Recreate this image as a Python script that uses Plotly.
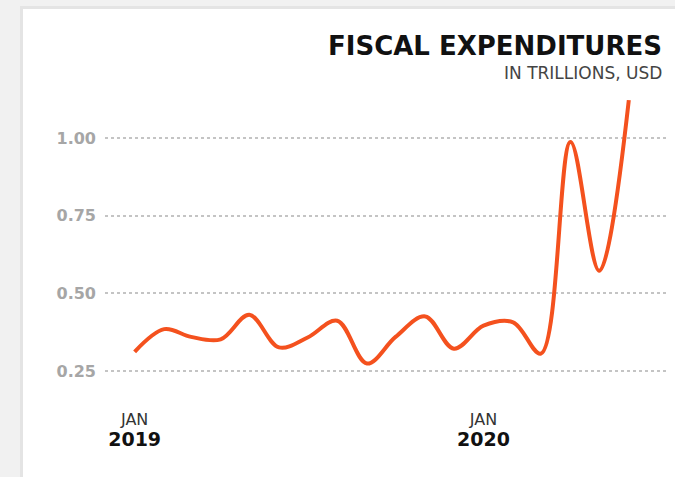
import plotly.graph_objects as go

# Monthly federal outlays, trillions of USD
months = [
    "2019-01-01", "2019-02-01", "2019-03-01", "2019-04-01", "2019-05-01", "2019-06-01",
    "2019-07-01", "2019-08-01", "2019-09-01", "2019-10-01", "2019-11-01", "2019-12-01",
    "2020-01-01", "2020-02-01", "2020-03-01", "2020-04-01", "2020-05-01", "2020-06-01",
]
outlays = [
    0.312, 0.385, 0.360, 0.352, 0.431, 0.326,
    0.358, 0.412, 0.274, 0.360, 0.426, 0.322,
    0.396, 0.407, 0.306, 0.988, 0.573, 1.123,
]

tick_dates = ["2019-01-01", "2020-01-01"]
tick_months = ["JAN", "JAN"]
tick_years = ["2019", "2020"]
y_ticks = [0.25, 0.50, 0.75, 1.00]

title_text = "FISCAL EXPENDITURES"
subtitle_text = "IN TRILLIONS, USD"

FONT = "DejaVu Sans, sans-serif"

W, H = 675, 477
ML, MR, MT, MB = 105, 7, 95, 87
PW, PH = W - ML - MR, H - MT - MB


def px_x(px):
    return (px - ML) / PW


def px_y(py):
    return (H - MB - py) / PH


fig = go.Figure()
fig.add_trace(go.Scatter(
    x=months, y=outlays,
    mode="lines",
    line=dict(color="#f4511e", width=4, shape="spline", smoothing=1.0),
    hoverinfo="x+y",
))

ticktext = [
    f"<span style='font-size:16px;color:#333'>{m}</span><br>"
    f"<span style='font-size:19px;color:#111'><b>{y}</b></span>"
    for m, y in zip(tick_months, tick_years)
]

fig.update_layout(
    width=W, height=H,
    margin=dict(l=ML, r=MR, t=MT, b=MB),
    paper_bgcolor="#f1f1f1",
    plot_bgcolor="rgba(0,0,0,0)",
    showlegend=False,
    font=dict(family=FONT),
    xaxis=dict(
        type="date",
        range=["2018-12-01", "2020-07-12"],
        tickvals=tick_dates,
        ticktext=ticktext,
        showgrid=False, zeroline=False, showline=False,
        ticks="", ticklabelstandoff=18,
        tickfont=dict(family=FONT, size=16, color="#222"),
    ),
    yaxis=dict(
        range=[0.1888, 1.1395],
        tickvals=y_ticks,
        ticktext=[f"{v:.2f}" for v in y_ticks],
        showgrid=True, gridcolor="#c4c4c4", gridwidth=1.5, griddash="dot",
        zeroline=False, showline=False, ticks="",
        ticklabelstandoff=8,
        tickfont=dict(family=FONT, size=16, color="#a6a6a6", weight="bold"),
    ),
    shapes=[
        # card shadow and white card
        dict(type="rect", xref="paper", yref="paper", layer="below",
             x0=px_x(20), x1=px_x(W + 5), y0=px_y(H + 5), y1=px_y(6),
             fillcolor="#e4e4e4", line=dict(width=0)),
        dict(type="rect", xref="paper", yref="paper", layer="below",
             x0=px_x(23), x1=px_x(W + 5), y0=px_y(H + 5), y1=px_y(9),
             fillcolor="#ffffff", line=dict(width=0)),
    ],
    annotations=[
        dict(text=f"<b>{title_text}</b>", xref="paper", yref="paper",
             x=px_x(664), y=px_y(46), xanchor="right", yanchor="middle",
             showarrow=False,
             font=dict(family=FONT, size=26, color="#111")),
        dict(text=subtitle_text, xref="paper", yref="paper",
             x=px_x(664), y=px_y(73), xanchor="right", yanchor="middle",
             showarrow=False,
             font=dict(family=FONT, size=17, color="#444")),
    ],
)

fig.write_html("out.html")
